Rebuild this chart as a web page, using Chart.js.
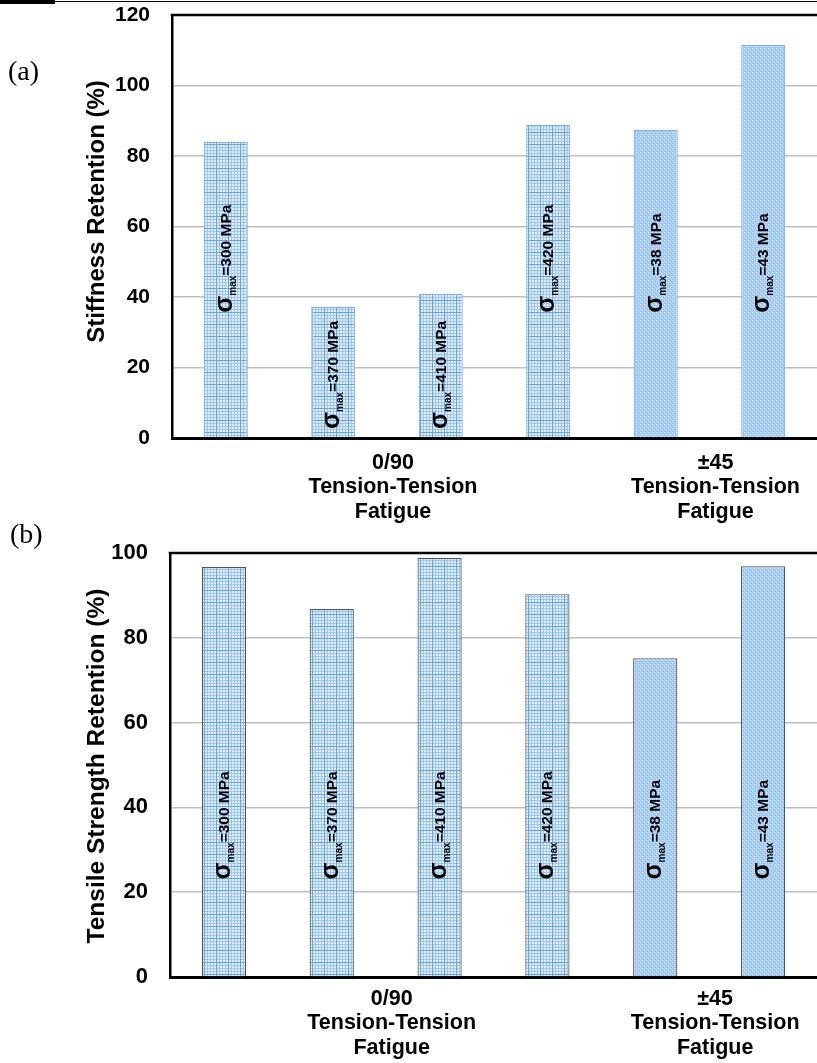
<!DOCTYPE html>
<html>
<head>
<meta charset="utf-8">
<script src="https://cdn.jsdelivr.net/npm/chart.js@4.4.1/dist/chart.umd.min.js"></script>
<style>
  html, body { margin: 0; padding: 0; background: #fff; }
  body { width: 817px; height: 1063px; position: relative; overflow: hidden; }
  .panel { position: absolute; left: 0; width: 817px; }
  #wrapA { top: 0; height: 530px; }
  #wrapB { top: 530px; height: 533px; }
  .tag { position: absolute; font-family: 'Liberation Serif', 'Times New Roman', serif; font-size: 28px; color: #000; line-height: 1; }
  .rule-thick { position: absolute; left: 0; top: 0; width: 55px; height: 4px; background: #000; z-index: 2; }
  .rule-thin { position: absolute; left: 55px; top: 1px; width: 762px; height: 1px; background: #000; z-index: 2; }
</style>
</head>
<body>
<div class="rule-thick"></div>
<div class="rule-thin"></div>
<div class="panel" id="wrapA"><canvas id="chartA" width="817" height="530"></canvas></div>
<div class="panel" id="wrapB"><canvas id="chartB" width="817" height="533"></canvas></div>
<span class="tag" style="left:8px;top:57px;">(a)</span>
<span class="tag" style="left:10px;top:520px;">(b)</span>

<script>
// Maximum fatigue stress of each specimen set (MPa) and its laminate
const stressLevels = ['300', '370', '410', '420', '38', '43'];
const laminates = ['0/90', '0/90', '0/90', '0/90', '±45', '±45'];

// Residual properties after tension-tension fatigue (%)
const stiffnessRetention = [84.0, 37.2, 40.9, 88.8, 87.4, 111.5];
const strengthRetention = [96.7, 86.8, 98.8, 90.3, 75.2, 96.9];

// Y-axis ticks
const stiffnessTicks = [0, 20, 40, 60, 80, 100, 120];
const strengthTicks = [0, 20, 40, 60, 80, 100];

// Laminate groups shown under the axis
const groupNames = ['0/90', '±45'];
const groupCaption = ['Tension-Tension', 'Fatigue'];

const FAMILY = "'Liberation Sans', Arial, Helvetica, sans-serif";

function gridPattern() {
  const c = document.createElement('canvas');
  c.width = 12; c.height = 12;
  const g = c.getContext('2d');
  g.fillStyle = '#e0edfa';
  g.fillRect(0, 0, 12, 12);
  g.fillStyle = '#9fc6ef';
  for (let i = 0; i < 12; i += 3) { g.fillRect(i, 0, 1, 12); g.fillRect(0, i, 12, 1); }
  g.fillStyle = '#6aa4e0';
  g.fillRect(0, 0, 1, 12);
  g.fillRect(0, 0, 12, 1);
  return g.createPattern(c, 'repeat');
}

function dotPattern() {
  const c = document.createElement('canvas');
  c.width = 4; c.height = 4;
  const g = c.getContext('2d');
  g.fillStyle = '#a9cdf3';
  g.fillRect(0, 0, 4, 4);
  g.fillStyle = '#dcebfb';
  g.fillRect(0, 0, 1, 1); g.fillRect(2, 2, 1, 1);
  g.fillStyle = '#8bbbee';
  g.fillRect(1, 3, 1, 1); g.fillRect(3, 1, 1, 1);
  return g.createPattern(c, 'repeat');
}

const fills = laminates.map(l => (l === '0/90' ? gridPattern() : dotPattern()));

function drawStressLabel(ctx, x, yStart, stress) {
  ctx.save();
  ctx.translate(x, yStart);
  ctx.rotate(-Math.PI / 2);
  ctx.fillStyle = '#000';
  ctx.textAlign = 'left';
  ctx.textBaseline = 'alphabetic';
  let pos = 0;
  ctx.font = 'bold 25px ' + FAMILY;
  ctx.fillText('σ', pos, 6);
  pos += ctx.measureText('σ').width;
  ctx.font = 'bold 10px ' + FAMILY;
  ctx.fillText('max', pos, 10);
  pos += ctx.measureText('max').width;
  ctx.font = 'bold 15.5px ' + FAMILY;
  ctx.fillText('=' + stress + ' MPa', pos, 5);
  ctx.restore();
}

function stressLabelLength(ctx, stress) {
  ctx.save();
  let w = 0;
  ctx.font = 'bold 25px ' + FAMILY; w += ctx.measureText('σ').width;
  ctx.font = 'bold 10px ' + FAMILY; w += ctx.measureText('max').width;
  ctx.font = 'bold 15.5px ' + FAMILY; w += ctx.measureText('=' + stress + ' MPa').width;
  ctx.restore();
  return w;
}

const panelDecor = {
  id: 'panelDecor',
  afterDatasetsDraw(chart, args, opts) {
    const { ctx, scales: { y } } = chart;
    const bars = chart.getDatasetMeta(0).data;
    const zero = y.getPixelForValue(0);
    bars.forEach((bar, i) => {
      const len = stressLabelLength(ctx, stressLevels[i]);
      let start = y.getPixelForValue(opts.labelLevel);
      if (start - len < bar.y + 6) start = zero - 9;
      drawStressLabel(ctx, bar.x, start, stressLevels[i]);
    });
  },
  afterDraw(chart, args, opts) {
    const { ctx, chartArea: a, scales: { x } } = chart;
    ctx.save();
    // top frame line
    ctx.strokeStyle = '#000';
    ctx.lineWidth = 2.5;
    ctx.beginPath();
    ctx.moveTo(a.left - 1.25, a.top);
    ctx.lineTo(a.right, a.top);
    ctx.stroke();

    // y-axis title
    ctx.fillStyle = '#000';
    ctx.font = 'bold ' + opts.titleSize + 'px ' + FAMILY;
    ctx.textAlign = 'center';
    ctx.textBaseline = 'middle';
    ctx.save();
    ctx.translate(opts.titleX, (a.top + a.bottom) / 2 + opts.titleShift);
    ctx.rotate(-Math.PI / 2);
    ctx.fillText(opts.title, 0, 0);
    ctx.restore();

    // laminate group captions
    ctx.font = 'bold 21.5px ' + FAMILY;
    groupNames.forEach(name => {
      const idx = laminates.map((l, i) => (l === name ? i : -1)).filter(i => i >= 0);
      const mid = (idx[0] + idx[idx.length - 1]) / 2;
      const cx = x.getPixelForValue(mid) + 6;
      const lines = [name].concat(groupCaption);
      lines.forEach((t, k) => ctx.fillText(t, cx, a.bottom + opts.captionOffset + k * 24.5));
    });
    ctx.restore();
  }
};

function makeChart(id, values, ticks, cfg) {
  return new Chart(document.getElementById(id), {
    type: 'bar',
    data: {
      labels: stressLevels,
      datasets: [{
        data: values,
        backgroundColor: fills,
        borderColor: cfg.barBorder,
        borderWidth: 1.2,
        borderSkipped: 'bottom',
        barPercentage: 0.41,
        categoryPercentage: 1
      }]
    },
    options: {
      responsive: false,
      animation: false,
      events: [],
      layout: { padding: cfg.padding },
      plugins: {
        legend: { display: false },
        tooltip: { enabled: false },
        panelDecor: {
          title: cfg.title,
          titleX: 97,
          titleSize: cfg.titleSize,
          titleShift: cfg.titleShift,
          labelLevel: cfg.labelLevel,
          captionOffset: cfg.captionOffset
        }
      },
      scales: {
        x: {
          grid: { display: false, drawTicks: false },
          ticks: { display: false },
          border: { display: true, color: '#000', width: 3 },
          afterFit(s) { s.height = 0; }
        },
        y: {
          min: ticks[0],
          max: ticks[ticks.length - 1],
          afterBuildTicks(s) { s.ticks = ticks.map(v => ({ value: v })); },
          ticks: {
            color: '#000',
            padding: cfg.tickPad,
            font: { family: FAMILY, size: cfg.tickSize, weight: 'bold' }
          },
          grid: { color: '#bfbfbf', lineWidth: 1.5, drawTicks: false },
          border: { color: '#000', width: 2.5 },
          afterFit(s) {
            s.width = cfg.axisLeft;
            s.paddingTop = 0;
            s.paddingBottom = 0;
          }
        }
      }
    },
    plugins: [panelDecor]
  });
}

makeChart('chartA', stiffnessRetention, stiffnessTicks, {
  title: 'Stiffness Retention (%)',
  titleSize: 24,
  titleShift: -15,
  tickSize: 21,
  tickPad: 22,
  barBorder: '#80b2e4',
  padding: { top: 15, bottom: 92, left: 0, right: 0 },
  axisLeft: 172,
  labelLevel: 35.5,
  captionOffset: 25
});

makeChart('chartB', strengthRetention, strengthTicks, {
  title: 'Tensile Strength Retention (%)',
  titleSize: 24.5,
  titleShift: 1,
  tickSize: 22,
  tickPad: 22,
  barBorder: '#555555',
  padding: { top: 23, bottom: 86, left: 0, right: 0 },
  axisLeft: 170,
  labelLevel: 23,
  captionOffset: 22
});
</script>
</body>
</html>
